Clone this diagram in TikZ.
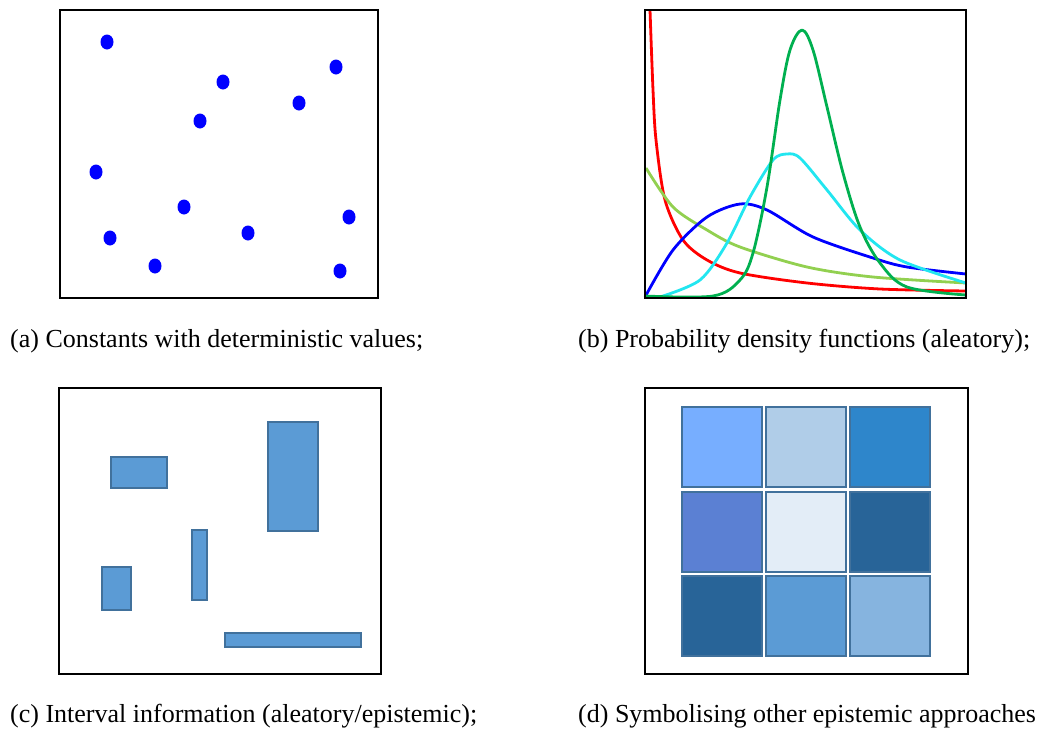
\documentclass[tikz,border=0pt]{standalone}
\usepackage{fontspec}
\setmainfont{Liberation Serif}
\definecolor{pdfred}{HTML}{FF0000}
\definecolor{pdflime}{HTML}{92D050}
\definecolor{pdfblue}{HTML}{0000FF}
\definecolor{pdfcyan}{HTML}{22E6F0}
\definecolor{pdfgreen}{HTML}{00B050}
\definecolor{boxfill}{HTML}{5B9BD5}
\definecolor{boxline}{HTML}{41719C}
\definecolor{cellA}{HTML}{77AEFF}
\definecolor{cellB}{HTML}{B0CDE8}
\definecolor{cellC}{HTML}{2E86CB}
\definecolor{cellD}{HTML}{5B80D3}
\definecolor{cellE}{HTML}{E3EDF7}
\definecolor{cellF}{HTML}{286498}
\definecolor{cellG}{HTML}{86B4DF}
\begin{document}
\begin{tikzpicture}[
        x=1pt, y=-1pt,
        frame/.style={draw=black, line width=2.6pt},
        dot/.style={fill=pdfblue, draw=none},
        curve/.style={line width=2.8pt, line join=round},
        interval/.style={fill=boxfill, draw=boxline, line width=2pt},
        cell/.style={draw=boxline, line width=2pt},
        caption/.style={anchor=base west, inner sep=0pt, font=\fontsize{26}{30}\selectfont}
    ]
        \useasboundingbox[fill=white] (0,0) rectangle (1051,731);

        % Panel (a): deterministic constants
        \draw[frame] (60,10) rectangle (378,298);
        \foreach \px/\py in {107/42, 223/82, 336/67, 299/103, 200/121, 96/172,
                             184/207, 349/217, 110/238, 248/233, 155/266, 340/271}
            \fill[dot] (\px,\py) ellipse (6.5 and 7.5);

        % Panel (b): probability density functions
        \draw[curve, pdfred] plot[smooth, tension=0.5] coordinates {
            (650,10) (653,90) (656,140) (665,200) (683,240) (707,260)
            (740,273) (807,283) (880,289) (966,291)};
        \draw[curve, pdflime] plot[smooth] coordinates {
            (646,168) (673,207) (707,230) (740,247) (807,267) (873,277) (966,283)};
        \draw[curve, pdfblue] plot[smooth] coordinates {
            (645,297) (673,250) (707,217) (740,204) (767,210) (813,237)
            (873,258) (907,267) (966,274)};
        \draw[curve, pdfcyan] plot[smooth] coordinates {
            (660,297) (700,280) (727,243) (750,197) (773,160) (787,154)
            (800,158) (827,190) (860,230) (900,260) (966,283)};
        \draw[curve, pdfgreen] plot[smooth, tension=0.55] coordinates {
            (645,296) (713,296) (740,280) (753,253) (767,187) (780,100)
            (790,50) (802,30) (813,50) (827,107) (843,173) (860,227)
            (880,263) (907,287) (966,295)};
        \draw[frame] (645,10) rectangle (966,298);

        % Panel (c): intervals
        \draw[frame] (59,388) rectangle (381,674);
        \draw[interval] (111,457) rectangle (167,488);
        \draw[interval] (268,422) rectangle (318,531);
        \draw[interval] (192,530) rectangle (207,600);
        \draw[interval] (102,567) rectangle (131,610);
        \draw[interval] (225,633) rectangle (361,647);

        % Panel (d): other epistemic approaches
        \draw[frame] (645,388) rectangle (968,674);
        \foreach \col/\row/\shade in {0/0/cellA, 1/0/cellB, 2/0/cellC,
                                      0/1/cellD, 1/1/cellE, 2/1/cellF,
                                      0/2/cellF, 1/2/boxfill, 2/2/cellG}
            \draw[cell, fill=\shade] ({682+84*\col},{407+84.5*\row}) rectangle ++(80,80);

        % Captions
        \node[caption] (capA) at (10,347) {(a) Constants with deterministic values;};
        \node[caption] (capB) at (578,347) {(b) Probability density functions (aleatory);};
        \node[caption] (capC) at (10,722) {(c) Interval information (aleatory/epistemic);};
        \node[caption] (capD) at (578,722) {(d) Symbolising other epistemic approaches};

    \end{tikzpicture}
\end{document}
